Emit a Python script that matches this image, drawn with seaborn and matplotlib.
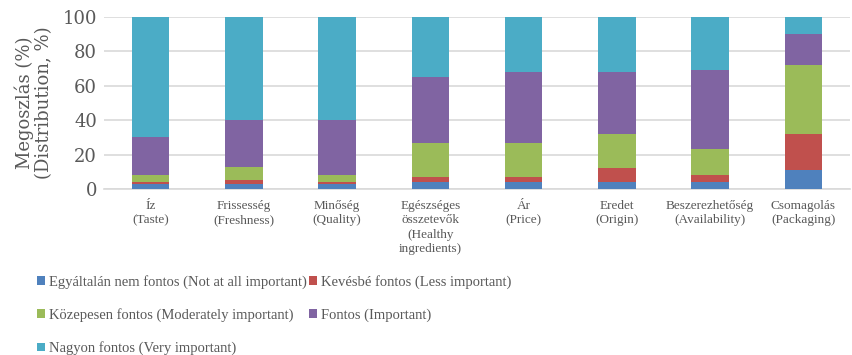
import matplotlib
matplotlib.use("Agg")
import matplotlib.pyplot as plt
from matplotlib.patches import Patch
import numpy as np
import pandas as pd
import seaborn as sns

categories = [
    "Íz\n(Taste)",
    "Frissesség\n(Freshness)",
    "Minőség\n(Quality)",
    "Egészséges\nösszetevők\n(Healthy\ningredients)",
    "Ár\n(Price)",
    "Eredet\n(Origin)",
    "Beszerezhetőség\n(Availability)",
    "Csomagolás\n(Packaging)",
]

levels = [
    "Egyáltalán nem fontos (Not at all important)",
    "Kevésbé fontos (Less important)",
    "Közepesen fontos (Moderately important)",
    "Fontos (Important)",
    "Nagyon fontos (Very important)",
]

not_at_all = [3, 3, 3, 4, 4, 4, 4, 11]
less = [1, 2, 1, 3, 3, 8, 4, 21]
moderate = [4, 8, 4, 20, 20, 20, 15, 40]
important = [22, 27, 32, 38, 41, 36, 46, 18]
very = [70, 60, 60, 35, 32, 32, 31, 10]

colors = ["#4F81BD", "#C0504D", "#9BBB59", "#8064A2", "#4BACC6"]

series = [not_at_all, less, moderate, important, very]
df = pd.DataFrame({lvl: vals for lvl, vals in zip(levels, series)}, index=categories)
cum = df.cumsum(axis=1)

sns.set_theme(style="white")
plt.rcParams["font.family"] = ["DejaVu Serif", "DejaVu Sans"]

fig = plt.figure(figsize=(8.52, 3.55), dpi=100)
ax = fig.add_axes([104 / 852, 1 - 189 / 355, (850 - 104) / 852, 172 / 355])

# stacked bars: draw cumulative totals from the top segment down
for lvl, col in reversed(list(zip(levels, colors))):
    sns.barplot(x=cum.index, y=cum[lvl].values, color=col, width=0.4,
                saturation=1, linewidth=0, ax=ax, zorder=3)

ax.set_ylim(0, 100)
ax.set_xlim(-0.5, len(categories) - 0.5)
ax.set_yticks(np.arange(0, 101, 20))
ax.yaxis.grid(True, color="#D9D9D9", linewidth=1.2, zorder=0)
ax.xaxis.grid(False)
for s in ["top", "right", "left"]:
    ax.spines[s].set_visible(False)
ax.spines["bottom"].set_color("#D9D9D9")
ax.spines["bottom"].set_linewidth(1.2)

ax.tick_params(axis="y", length=0, labelsize=13, labelcolor="#595959", pad=5)
ax.tick_params(axis="x", length=0, pad=8)
for lab in ax.get_xticklabels():
    lab.set_fontfamily("Liberation Serif")
    lab.set_fontsize(9.5)
    lab.set_color("#595959")
    lab.set_linespacing(1.25)

ax.set_xlabel("")
ax.set_ylabel("Megoszlás (%)\n(Distribution, %)", fontsize=13, color="#595959",
              labelpad=7, linespacing=1.05)

handles = [Patch(facecolor=c, edgecolor="none") for c in colors]
order = [0, 2, 4, 1, 3]
fig.legend([handles[i] for i in order], [levels[i] for i in order],
           ncol=2, loc="upper left", bbox_to_anchor=(37 / 852, 1 - 275 / 355),
           frameon=False, prop={"family": "Liberation Serif", "size": 10.5},
           handlelength=0.55, handleheight=0.55, handletextpad=0.25,
           columnspacing=0.2, labelspacing=1.32, borderaxespad=0, borderpad=0,
           labelcolor="#595959")

fig.savefig("out.png", dpi=100)
